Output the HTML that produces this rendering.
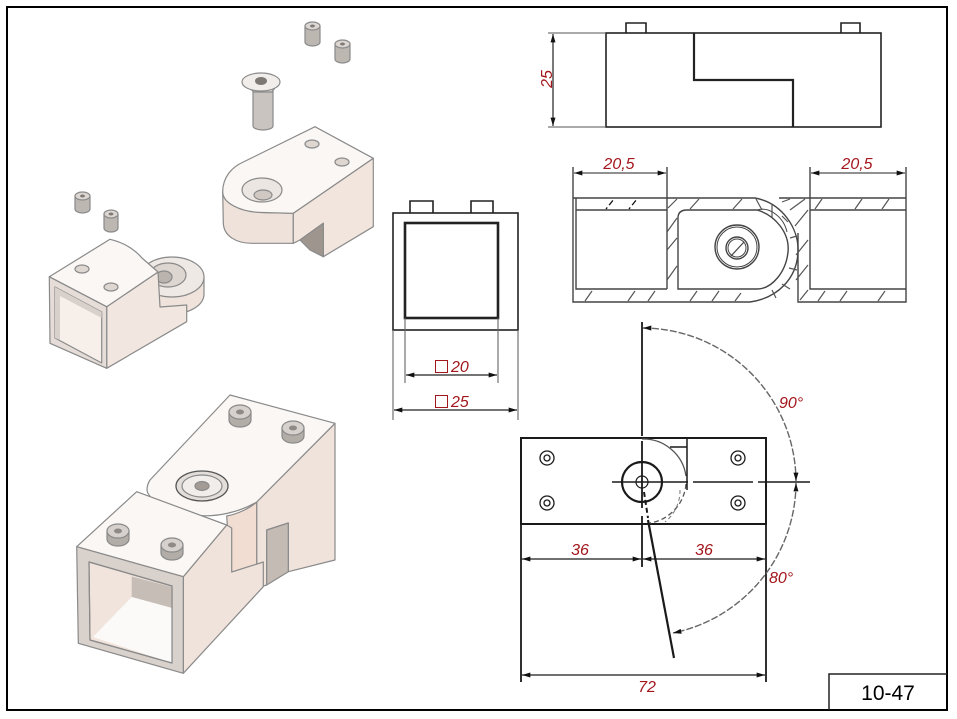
<!DOCTYPE html>
<html><head><meta charset="utf-8"><style>
html,body{margin:0;padding:0;background:#fff;}
svg{display:block;}
text{font-family:"Liberation Sans",sans-serif;}
.r{fill:#a3161c;font-style:italic;font-size:16px;}
</style></head><body>
<svg width="957" height="719" viewBox="0 0 957 719" xmlns="http://www.w3.org/2000/svg">
<defs>
<marker id="a" viewBox="0 0 10 6" refX="10" refY="3" markerWidth="9" markerHeight="5" markerUnits="userSpaceOnUse" orient="auto-start-reverse"><path d="M0,0 L10,3 L0,6 Z" fill="#111"/></marker>
</defs>
<rect x="0" y="0" width="957" height="719" fill="#fff"/>
<!-- frame -->
<rect x="7" y="7" width="940" height="703" fill="none" stroke="#000" stroke-width="2"/>
<path d="M829,710 V674 H947" fill="none" stroke="#222" stroke-width="1.5"/>
<text x="888" y="700" font-size="21" text-anchor="middle" fill="#000">10-47</text>

<!-- ============ TOP VIEW ============ -->
<g stroke="#222" stroke-width="1.6" fill="none">
<rect x="606" y="33" width="275" height="94"/>
<path d="M626,33 V23 H646 V33 M841,33 V23 H860 V33"/>
<path d="M694,33 V80 H793 V127" stroke-width="2.2"/>
<path d="M548,33 H606 M548,127 H606" stroke="#555" stroke-width="1"/>
<line x1="553" y1="34" x2="553" y2="126" stroke-width="1.2" marker-start="url(#a)" marker-end="url(#a)"/>
</g>
<text class="r" transform="translate(552,79) rotate(-90)" text-anchor="middle">25</text>

<!-- ============ SECTION VIEW ============ -->
<g stroke="#444" stroke-width="1.4" fill="none">
<!-- left tube -->
<path d="M573,167 V302 H750"/>
<path d="M576,198 V289 H667"/>
<path d="M573,198 H667 M576,210 H667"/>
<path d="M667,167 V289"/>
<!-- center -->
<path d="M667,198 H755 C782,203 799,228 798,252 C797,278 778,298 750,302"/>
<path d="M678,289 V218 Q678,210 687,210 H757 C775,215 790,233 788,252 C786,272 772,289 757,289 Z"/>
<path d="M757,210 C770,206 784,218 787,232" stroke-width="1"/>
<circle cx="737" cy="247" r="22"/>
<circle cx="737" cy="247" r="20" stroke-width="1"/>
<circle cx="737" cy="248" r="11"/>
<circle cx="737" cy="248" r="9" stroke-width="1"/>
<path d="M731,256 L744,242" stroke-width="1.2"/>
<!-- right tube -->
<path d="M779,198 H906 M810,210 H906"/>
<path d="M810,167 V289 H906"/>
<path d="M906,167 V302 H798 V233"/>
<!-- hatching -->
<g stroke="#555" stroke-width="1.2">
<path d="M585,301 L592,291 M628,301 L635,291 M648,301 L655,291 M690,301 L697,291 M712,301 L719,291 M735,301 L741,293"/>
<path d="M668,208 L677,199 M690,209 L699,199 M733,209 L742,199"/>
<path d="M667,232 L677,218 M667,250 L677,238 M667,280 L677,266"/>
<path d="M756,199 L762,210 M772,205 L772,217 M782,216 L788,222 M790,238 L797,236 M789,268 L797,270 M782,284 L790,289 M772,290 L776,298"/>
<path d="M782,202 L790,199 M790,210 L805,199 M795,226 L808,210 M796,255 L808,240 M796,280 L808,265 M800,300 L808,290"/>
<path d="M815,209 L822,199 M855,209 L862,199 M882,209 L889,199"/>
<path d="M818,301 L825,291 M840,301 L847,291 M878,301 L885,291"/>
</g>
<path d="M606,209 L614,199 M629,209 L637,199" stroke="#111" stroke-width="1.3" stroke-dasharray="2 3 6 4"/>
</g>
<!-- dims 20,5 -->
<g stroke="#222" stroke-width="1.1" fill="none">
<line x1="574" y1="173" x2="666" y2="173" marker-start="url(#a)" marker-end="url(#a)"/>
<line x1="811" y1="173" x2="905" y2="173" marker-start="url(#a)" marker-end="url(#a)"/>
</g>
<text class="r" x="619" y="169" text-anchor="middle">20,5</text>
<text class="r" x="857" y="169" text-anchor="middle">20,5</text>

<!-- ============ FRONT VIEW ============ -->
<g stroke="#222" stroke-width="1.6" fill="none">
<rect x="393" y="213" width="125" height="117"/>
<rect x="405" y="223" width="93" height="95" stroke-width="2.6"/>
<path d="M410,213 V201 H433 V213 M471,213 V201 H493 V213"/>
<path d="M393,330 V420 M518,330 V420 M405,318 V383 M498,318 V383" stroke="#666" stroke-width="1.1"/>
<line x1="406" y1="375" x2="497" y2="375" stroke-width="1.2" marker-start="url(#a)" marker-end="url(#a)"/>
<line x1="394" y1="410" x2="517" y2="410" stroke-width="1.2" marker-start="url(#a)" marker-end="url(#a)"/>
</g>
<rect x="435.5" y="360.5" width="12" height="12" fill="none" stroke="#a3161c" stroke-width="1"/>
<text class="r" x="451" y="372">20</text>
<rect x="435.5" y="395.5" width="12" height="12" fill="none" stroke="#a3161c" stroke-width="1"/>
<text class="r" x="451" y="407">25</text>

<!-- ============ BOTTOM-RIGHT VIEW ============ -->
<g stroke="#1a1a1a" stroke-width="1.8" fill="none">
<rect x="521" y="438" width="245" height="86" stroke-width="2"/>
<path d="M521,524 V682 M766,524 V682"/>
<path d="M642,322 V436 M642,441 V508 M642,516 V567"/>
<path d="M612,482 H688 M693,482 H753 M758,482 H810" stroke-width="1.5"/>
<circle cx="642" cy="482" r="20" stroke-width="2.2"/>
<circle cx="642" cy="482" r="6" stroke-width="1.2"/>
<path d="M642,439 A43,43 0 0 1 686,476" stroke="#555" stroke-width="1.3"/>
<path d="M686,484 A43,43 0 0 1 650,523" stroke="#555" stroke-width="1.3" stroke-dasharray="5 3"/>
<path d="M680,490 A40,40 0 0 1 665,522" stroke="#777" stroke-width="1" stroke-dasharray="4 3"/>
<path d="M687,439 V490 M670,447 H687" stroke-width="1.5"/>
<path d="M644,492 L648,518" stroke-width="2" stroke-dasharray="5 3"/>
<path d="M648,520 L674,658" stroke-width="2.2"/>
<g stroke-width="1.3">
<circle cx="547" cy="458" r="7"/><circle cx="547" cy="458" r="3"/>
<circle cx="547" cy="503" r="7"/><circle cx="547" cy="503" r="3"/>
<circle cx="738" cy="458" r="7"/><circle cx="738" cy="458" r="3"/>
<circle cx="738" cy="503" r="7"/><circle cx="738" cy="503" r="3"/>
</g>
<line x1="522" y1="559" x2="641" y2="559" stroke-width="1.2" marker-start="url(#a)" marker-end="url(#a)"/>
<line x1="643" y1="559" x2="765" y2="559" stroke-width="1.2" marker-start="url(#a)" marker-end="url(#a)"/>
<line x1="522" y1="675" x2="765" y2="675" stroke-width="1.2" marker-start="url(#a)" marker-end="url(#a)"/>
<path d="M643,328 A154,154 0 0 1 796,481" stroke="#666" stroke-width="1.4" stroke-dasharray="7 2" marker-start="url(#a)" marker-end="url(#a)"/>
<path d="M796,483 A154,154 0 0 1 673,633" stroke="#666" stroke-width="1.4" stroke-dasharray="7 2" marker-start="url(#a)" marker-end="url(#a)"/>
</g>
<text class="r" x="580" y="555" text-anchor="middle">36</text>
<text class="r" x="704" y="555" text-anchor="middle">36</text>
<text class="r" x="647" y="692" text-anchor="middle">72</text>
<text class="r" x="779" y="408">90°</text>
<text class="r" x="769" y="583">80°</text>

<!-- ============ 3D PIECE A (upper) ============ -->
<g stroke="#8a8a8a" stroke-width="1.2" stroke-linejoin="round">
<!-- set screws -->
<path d="M305,26 V42 A7.5,4 0 0 0 320,42 V26 Z" fill="#bdb7b2"/>
<ellipse cx="312.5" cy="26" rx="7.5" ry="4" fill="#dcd7d3"/>
<ellipse cx="312.5" cy="26" rx="2.5" ry="1.5" fill="#7f7a76" stroke="none"/>
<path d="M335,44 V59 A7.5,4 0 0 0 350,59 V44 Z" fill="#bdb7b2"/>
<ellipse cx="342.5" cy="44" rx="7.5" ry="4" fill="#dcd7d3"/>
<ellipse cx="342.5" cy="44" rx="2.5" ry="1.5" fill="#7f7a76" stroke="none"/>
<!-- bolt -->
<path d="M253,88 V126 A10,4 0 0 0 273,126 V88 Z" fill="#c9c4c0"/>
<path d="M243,82 L279,82 L272,92 L254,92 Z" fill="#d9d4d0"/>
<ellipse cx="261" cy="82" rx="19" ry="9" fill="#f1edea"/>
<ellipse cx="261" cy="81" rx="6" ry="4" fill="#7d7874" stroke="none"/>
<!-- body -->
<path d="M222.7,191.7 L223.3,223.3 C224,236 236,243.3 252,243.3 L293.3,243.3 L293.3,213.3 L262,212.5 C240,212 223,203 222.7,191.7 Z" fill="#efe2da"/>
<path d="M293.3,213.3 L373.3,158.3 L373.3,226.7 L323.3,256.7 L323.3,223.3 L300,240 L293.3,243.3 Z" fill="#f1e5de"/>
<path d="M300,240 L323.3,223.3 L323.3,256.7 L310,250 Z" fill="#9e958f"/>
<path d="M315,126.7 L373.3,158.3 L293.3,213.3 L262,212.5 C240,212 222.7,203 222.7,191.7 C222.7,177 232,167 243.3,162 Z" fill="#faf7f5"/>
<ellipse cx="262" cy="190" rx="20" ry="12" fill="#ebe6e2"/>
<ellipse cx="263" cy="195" rx="9" ry="5" fill="#cfc8c3"/>
<ellipse cx="312" cy="144" rx="7" ry="4" fill="#ddd6d1"/>
<ellipse cx="342" cy="162" rx="7" ry="4" fill="#ddd6d1"/>
</g>

<!-- ============ 3D PIECE B (left) ============ -->
<g stroke="#8a8a8a" stroke-width="1.2" stroke-linejoin="round">
<path d="M75,196 V209 A7.5,4 0 0 0 90,209 V196 Z" fill="#bdb7b2"/>
<ellipse cx="82.5" cy="196" rx="7.5" ry="4" fill="#dcd7d3"/>
<ellipse cx="82.5" cy="196" rx="2.5" ry="1.5" fill="#7f7a76" stroke="none"/>
<path d="M104,214 V228 A7,4 0 0 0 118,228 V214 Z" fill="#bdb7b2"/>
<ellipse cx="111" cy="214" rx="7" ry="4" fill="#dcd7d3"/>
<ellipse cx="111" cy="214" rx="2.5" ry="1.5" fill="#7f7a76" stroke="none"/>
<!-- tongue -->
<path d="M140,277 L140,294 A32,20 0 0 0 204,294 L204,277 Z" fill="#efe3dc"/>
<ellipse cx="172" cy="277" rx="32" ry="20" fill="#efe9e5"/>
<ellipse cx="168" cy="275" rx="18" ry="12" fill="#ddd5cf"/>
<ellipse cx="164" cy="277" rx="8" ry="6" fill="#bbb3ae"/>
<!-- box -->
<path d="M106.7,306.7 L158,272 L160,307 L186.7,305 L186.7,321.7 L106.7,368.3 Z" fill="#f2e7e0"/>
<path d="M49.3,276.7 L106.7,306.7 L106.7,368.3 L50,343.3 Z" fill="#e6ddd8"/>
<path d="M55,287 L101.7,312 L101.7,363 L55,338 Z" fill="#f6efea"/>
<path d="M55,287 L101.7,312 L101.7,318 L60,296 L60,340 L55,338 Z" fill="#d8d0cb" stroke="none"/>
<path d="M49.3,276.7 L110,239.3 Q130,244 142,258 L158,272 L106.7,306.7 Z" fill="#faf7f5"/>
<ellipse cx="82" cy="269" rx="7" ry="4" fill="#ddd6d1"/>
<ellipse cx="111" cy="287" rx="7" ry="4" fill="#ddd6d1"/>
</g>

<!-- ============ 3D PIECE C (assembled) ============ -->
<g stroke="#8a8a8a" stroke-width="1.2" stroke-linejoin="round">
<path d="M256.7,502 L335,423.3 L335,560 L288.3,571.7 L288.3,523 L266.7,530 L266.7,585 L256.7,588 Z" fill="#efe3dc"/>
<path d="M266.7,530 L288.3,523 L288.3,571.7 L266.7,585 Z" fill="#c4bbb5"/>
<path d="M226.7,516 C238,514 250,508 256.7,502 L256.7,588 L231.7,590 Z" fill="#f1ddd2"/>
<path d="M230,395 L335,423.3 L256.7,502 C240,512 215,518 195,515 C170,511 148,500 147,490 C147,486 148,483 150,480 Z" fill="#faf7f5"/>
<ellipse cx="202" cy="486" rx="26" ry="15" fill="#e3ded9" stroke="#555" stroke-width="1.3"/>
<ellipse cx="202" cy="486" rx="20" ry="11" fill="#f1edea"/>
<ellipse cx="202" cy="486" rx="7" ry="4.5" fill="#a39b96"/>
<!-- screws on back block -->
<path d="M229,412 V420 A11,7 0 0 0 251,420 V412 Z" fill="#b3ada8"/>
<ellipse cx="240" cy="412" rx="11" ry="7" fill="#d6d1cd"/>
<ellipse cx="240" cy="412" rx="4" ry="2.5" fill="#8f8a86" stroke="none"/>
<path d="M282,428 V436 A11,7 0 0 0 304,436 V428 Z" fill="#b3ada8"/>
<ellipse cx="293" cy="428" rx="11" ry="7" fill="#d6d1cd"/>
<ellipse cx="293" cy="428" rx="4" ry="2.5" fill="#8f8a86" stroke="none"/>
<!-- front block -->
<path d="M183.3,576.7 L226.7,525 L231.7,528 L231.7,572 L263.3,562 L263.3,586.7 L183.3,673.3 Z" fill="#f0e3db"/>
<path d="M76.7,546.7 L136.7,491.7 L226.7,525 L183.3,576.7 Z" fill="#faf7f5"/>
<path d="M76.7,546.7 L183.3,576.7 L183.3,673.3 L78.3,643.3 Z" fill="#d9d1cc"/>
<path d="M89,562 L172,586 L172,663 L90,640 Z" fill="#f1e4dc"/>
<path d="M131.7,576.5 L172,587 L172,608 L131.7,597 Z" fill="#c6bdb7" stroke="none"/>
<path d="M93,637 L131.7,597 L172,608 L172,663 Z" fill="#fbfaf9" stroke="none"/>
<path d="M89,562 L172,586 L172,663 L90,640 Z" fill="none"/>
<path d="M107,531 V539 A11,7 0 0 0 129,539 V531 Z" fill="#b3ada8"/>
<ellipse cx="118" cy="531" rx="11" ry="7" fill="#d6d1cd"/>
<ellipse cx="118" cy="531" rx="4" ry="2.5" fill="#8f8a86" stroke="none"/>
<path d="M161,545 V553 A11,7 0 0 0 183,553 V545 Z" fill="#b3ada8"/>
<ellipse cx="172" cy="545" rx="11" ry="7" fill="#d6d1cd"/>
<ellipse cx="172" cy="545" rx="4" ry="2.5" fill="#8f8a86" stroke="none"/>
</g>
</svg>
</body></html>
